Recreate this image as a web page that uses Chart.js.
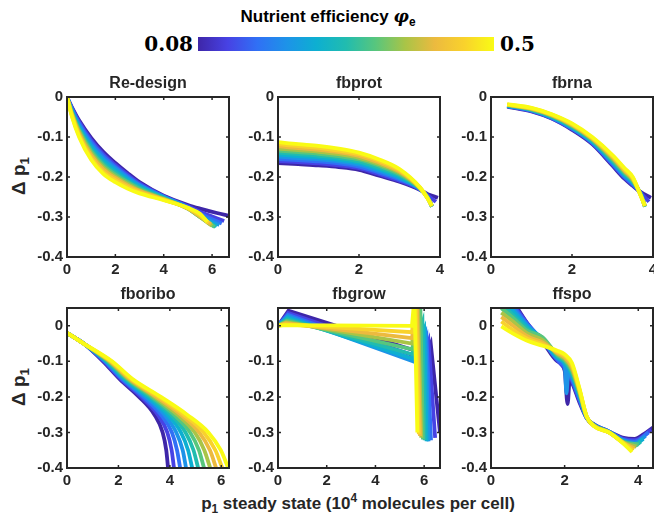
<!DOCTYPE html>
<html>
<head>
<meta charset="utf-8">
<script src="https://cdn.jsdelivr.net/npm/chart.js@4.4.0/dist/chart.umd.min.js"></script>
<style>
  body { margin: 0; background: #fff; width: 654px; height: 516px; position: relative; overflow: hidden;
         font-family: "Liberation Sans", Arial, Helvetica, sans-serif; }
  canvas { position: absolute; }
  .lbl { position: absolute; font-weight: bold; color: #262626; white-space: nowrap; line-height: 1; }
  .ptitle { font-size: 16px; transform: translate(-50%, -50%); }
  .ylab { font-size: 19px; transform: translate(-50%, -50%) rotate(-90deg); }
  .cbnum { position: absolute; font-family: "DejaVu Serif", serif; font-weight: bold; font-size: 20px; color: #000; line-height: 1; }
  sub, sup { font-size: 70%; line-height: 0; }
</style>
</head>
<body>
<div id="colorbar" style="position:absolute;left:198px;top:37px;width:296px;height:14px;"></div>
<div class="lbl" style="left:328px;top:16px;font-size:17px;color:#000;transform:translate(-50%,-50%);">Nutrient efficiency <i style="font-family:'DejaVu Serif',serif;">φ</i><sub>e</sub></div>
<div class="cbnum" id="cbLow" style="right:461px;top:34px;"></div>
<div class="cbnum" id="cbHigh" style="left:500px;top:34px;"></div>
<div class="lbl ylab" style="left:18px;top:176px;">Δ p<sub>1</sub></div>
<div class="lbl ylab" style="left:18px;top:387px;">Δ p<sub>1</sub></div>
<div class="lbl" style="left:358px;top:503px;font-size:17px;transform:translate(-50%,-50%);">p<sub>1</sub> steady state (10<sup>4</sup> molecules per cell)</div>

<script>
// nutrient efficiency values, one curve per value (parula colours)
const phiValues = [0.08, 0.122, 0.164, 0.206, 0.248, 0.29, 0.332, 0.374, 0.416, 0.458, 0.5];
const lineColors = ['#3E26A8', '#4742E4', '#3070F5', '#1D93E8', '#0DAFD1', '#21BCAF',
                    '#58C67D', '#A9C447', '#ECBA3F', '#F9D22C', '#F9FB15'];
const colorbarLabels = ['0.08', '0.5'];
const panelTitles = ['Re-design', 'fbprot', 'fbrna', 'fboribo', 'fbgrow', 'ffspo'];

// Re-design
const redesignX = [
  [0, 0.2, 0.5, 1, 1.5, 2, 2.5, 3, 4, 5, 5.5, 6.2, 6.7],
  [0, 0.2, 0.5, 1, 1.5, 2, 2.5, 3, 4, 5, 5.5, 6.5],
  [0, 0.2, 0.5, 1, 1.5, 2, 2.5, 3, 4, 5, 5.5, 6.4],
  [0, 0.2, 0.5, 1, 1.5, 2, 2.5, 3, 4, 5, 5.5, 6.3],
  [0, 0.2, 0.5, 1, 1.5, 2, 2.5, 3, 4, 5, 5.5, 6.2],
  [0, 0.2, 0.5, 1, 1.5, 2, 2.5, 3, 4, 5, 5.5, 6.15],
  [0, 0.2, 0.5, 1, 1.5, 2, 2.5, 3, 4, 5, 5.5, 6.1],
  [0, 0.2, 0.5, 1, 1.5, 2, 2.5, 3, 4, 5, 5.5, 6.0],
  [0, 0.2, 0.5, 1, 1.5, 2, 2.5, 3, 4, 5, 5.5, 5.95],
  [0, 0.2, 0.5, 1, 1.5, 2, 2.5, 3, 4, 5, 5.5, 5.85],
  [0, 0.2, 0.5, 1, 1.5, 2, 2.5, 3, 4, 5, 5.5, 5.8]
];
const redesignY = [
  [0, -0.025, -0.058, -0.102, -0.137, -0.165, -0.190, -0.213, -0.247, -0.270, -0.279, -0.290, -0.297],
  [0, -0.027, -0.062, -0.108, -0.143, -0.170, -0.194, -0.216, -0.248, -0.273, -0.287, -0.310],
  [0, -0.030, -0.066, -0.113, -0.148, -0.175, -0.198, -0.219, -0.249, -0.275, -0.292, -0.316],
  [0, -0.032, -0.071, -0.119, -0.154, -0.179, -0.202, -0.221, -0.250, -0.277, -0.296, -0.320],
  [0, -0.034, -0.075, -0.124, -0.159, -0.184, -0.206, -0.224, -0.251, -0.278, -0.298, -0.323],
  [0, -0.037, -0.079, -0.130, -0.165, -0.189, -0.210, -0.227, -0.253, -0.279, -0.300, -0.325],
  [0, -0.039, -0.083, -0.135, -0.170, -0.194, -0.213, -0.230, -0.254, -0.279, -0.300, -0.325],
  [0, -0.041, -0.087, -0.141, -0.176, -0.199, -0.217, -0.233, -0.255, -0.279, -0.300, -0.322],
  [0, -0.043, -0.092, -0.146, -0.181, -0.203, -0.221, -0.235, -0.256, -0.279, -0.298, -0.318],
  [0, -0.046, -0.096, -0.152, -0.187, -0.208, -0.225, -0.238, -0.257, -0.278, -0.295, -0.315],
  [0, -0.048, -0.100, -0.157, -0.192, -0.213, -0.229, -0.241, -0.258, -0.277, -0.292, -0.312]
];

// fbprot
const fbprotX = [
  [0, 0.5, 1, 1.5, 2, 2.5, 3, 3.5, 3.7, 3.95],
  [0, 0.5, 1, 1.5, 2, 2.5, 3, 3.5, 3.7, 3.9],
  [0, 0.5, 1, 1.5, 2, 2.5, 3, 3.5, 3.7, 3.8],
  [0, 0.5, 1, 1.5, 2, 2.5, 3, 3.5, 3.7, 3.8],
  [0, 0.5, 1, 1.5, 2, 2.5, 3, 3.5, 3.7, 3.8],
  [0, 0.5, 1, 1.5, 2, 2.5, 3, 3.5, 3.7, 3.8],
  [0, 0.5, 1, 1.5, 2, 2.5, 3, 3.5, 3.7, 3.8],
  [0, 0.5, 1, 1.5, 2, 2.5, 3, 3.5, 3.7, 3.8],
  [0, 0.5, 1, 1.5, 2, 2.5, 3, 3.5, 3.7, 3.8],
  [0, 0.5, 1, 1.5, 2, 2.5, 3, 3.5, 3.7, 3.8],
  [0, 0.5, 1, 1.5, 2, 2.5, 3, 3.5, 3.7, 3.8]
];
const fbprotY = [
  [-0.165, -0.168, -0.171, -0.175, -0.182, -0.197, -0.212, -0.232, -0.243, -0.252],
  [-0.160, -0.163, -0.166, -0.171, -0.178, -0.193, -0.209, -0.231, -0.246, -0.262],
  [-0.155, -0.158, -0.161, -0.166, -0.174, -0.189, -0.206, -0.230, -0.250, -0.272],
  [-0.149, -0.153, -0.156, -0.161, -0.169, -0.185, -0.203, -0.229, -0.251, -0.273],
  [-0.144, -0.148, -0.151, -0.157, -0.165, -0.181, -0.200, -0.229, -0.252, -0.274],
  [-0.139, -0.143, -0.147, -0.152, -0.161, -0.177, -0.196, -0.228, -0.252, -0.274],
  [-0.134, -0.138, -0.142, -0.148, -0.156, -0.172, -0.193, -0.228, -0.253, -0.274],
  [-0.129, -0.133, -0.137, -0.143, -0.152, -0.168, -0.189, -0.227, -0.253, -0.273],
  [-0.123, -0.128, -0.132, -0.138, -0.147, -0.164, -0.186, -0.226, -0.254, -0.273],
  [-0.118, -0.123, -0.127, -0.134, -0.143, -0.160, -0.183, -0.226, -0.254, -0.272],
  [-0.113, -0.118, -0.122, -0.129, -0.139, -0.156, -0.180, -0.225, -0.255, -0.272]
];

// fbrna
const fbrnaX = [
  [0.4, 1, 1.5, 2, 2.5, 3, 3.3, 3.5, 3.7, 3.95],
  [0.4, 1, 1.5, 2, 2.5, 3, 3.3, 3.5, 3.7, 3.9],
  [0.4, 1, 1.5, 2, 2.5, 3, 3.3, 3.5, 3.7, 3.8],
  [0.4, 1, 1.5, 2, 2.5, 3, 3.3, 3.5, 3.7, 3.8],
  [0.4, 1, 1.5, 2, 2.5, 3, 3.3, 3.5, 3.7, 3.8],
  [0.4, 1, 1.5, 2, 2.5, 3, 3.3, 3.5, 3.7, 3.8],
  [0.4, 1, 1.5, 2, 2.5, 3, 3.3, 3.5, 3.7, 3.8],
  [0.4, 1, 1.5, 2, 2.5, 3, 3.3, 3.5, 3.7, 3.8],
  [0.4, 1, 1.5, 2, 2.5, 3, 3.3, 3.5, 3.7, 3.8],
  [0.4, 1, 1.5, 2, 2.5, 3, 3.3, 3.5, 3.7, 3.8],
  [0.4, 1, 1.5, 2, 2.5, 3, 3.3, 3.5, 3.7, 3.8]
];
const fbrnaY = [
  [-0.024, -0.036, -0.054, -0.082, -0.118, -0.172, -0.205, -0.222, -0.238, -0.252],
  [-0.023, -0.035, -0.053, -0.080, -0.116, -0.169, -0.202, -0.220, -0.240, -0.262],
  [-0.023, -0.034, -0.052, -0.079, -0.114, -0.167, -0.200, -0.218, -0.241, -0.272],
  [-0.022, -0.033, -0.051, -0.077, -0.113, -0.164, -0.197, -0.215, -0.242, -0.273],
  [-0.022, -0.032, -0.050, -0.076, -0.111, -0.161, -0.194, -0.213, -0.243, -0.274],
  [-0.021, -0.032, -0.049, -0.074, -0.109, -0.159, -0.192, -0.211, -0.244, -0.274],
  [-0.020, -0.031, -0.047, -0.072, -0.107, -0.156, -0.189, -0.209, -0.245, -0.274],
  [-0.020, -0.030, -0.046, -0.071, -0.105, -0.153, -0.186, -0.207, -0.246, -0.273],
  [-0.019, -0.029, -0.045, -0.069, -0.104, -0.150, -0.184, -0.204, -0.246, -0.273],
  [-0.019, -0.028, -0.044, -0.068, -0.102, -0.148, -0.181, -0.202, -0.247, -0.272],
  [-0.018, -0.027, -0.043, -0.066, -0.100, -0.145, -0.178, -0.200, -0.248, -0.272]
];

// fboribo (x read at fixed levels of delta p1)
const fboriboX = [
  [0, 0.65, 1.40, 2.05, 2.80, 3.40, 3.72, 3.86, 3.93],
  [0, 0.65, 1.44, 2.10, 2.89, 3.53, 3.90, 4.07, 4.16],
  [0, 0.65, 1.47, 2.15, 2.97, 3.65, 4.08, 4.28, 4.40],
  [0, 0.65, 1.51, 2.20, 3.06, 3.78, 4.25, 4.50, 4.63],
  [0, 0.65, 1.54, 2.25, 3.14, 3.91, 4.43, 4.71, 4.87],
  [0, 0.65, 1.58, 2.30, 3.23, 4.04, 4.61, 4.92, 5.10],
  [0, 0.65, 1.61, 2.35, 3.31, 4.16, 4.79, 5.13, 5.33],
  [0, 0.65, 1.65, 2.40, 3.40, 4.29, 4.97, 5.34, 5.57],
  [0, 0.65, 1.68, 2.45, 3.48, 4.42, 5.14, 5.56, 5.80],
  [0, 0.65, 1.72, 2.50, 3.57, 4.54, 5.32, 5.77, 6.04],
  [0, 0.65, 1.75, 2.55, 3.65, 4.67, 5.50, 5.98, 6.27]
];
const fboriboLevels = [-0.02, -0.05, -0.1, -0.15, -0.2, -0.25, -0.3, -0.35, -0.4];

// fbgrow
const fbgrowX = [
  [0, 0.43, 6.1, 6.27, 6.65],
  [0, 0.42, 5.95, 6.18, 6.45],
  [0, 0.41, 5.75, 6.1, 6.28],
  [0, 0.4, 5.55, 6.05, 6.18],
  [0, 0.4, 5.5, 6.0, 6.1],
  [0, 0.38, 5.5, 5.93, 6.02],
  [0, 0.36, 5.5, 5.85, 5.95],
  [0, 0.34, 5.5, 5.75, 5.88],
  [0, 0.32, 5.5, 5.7, 5.83],
  [0, 0.3, 5.5, 5.65, 5.78],
  [0, 0.3, 5.5, 5.6, 5.72]
];
const fbgrowY = [
  [0, 0.042, -0.08, -0.051, -0.30],
  [0, 0.036, -0.092, -0.045, -0.315],
  [0, 0.031, -0.1, -0.035, -0.322],
  [0, 0.027, -0.1, -0.023, -0.325],
  [0, 0.022, -0.092, -0.01, -0.325],
  [0, 0.018, -0.08, 0.009, -0.322],
  [0, 0.014, -0.066, 0.03, -0.32],
  [0, 0.010, -0.05, 0.06, -0.315],
  [0, 0.007, -0.035, 0.07, -0.31],
  [0, 0.004, -0.018, 0.08, -0.305],
  [0, 0.002, 0, 0.08, -0.30]
];

// ffspo
const ffspoX = [
  [0.28, 0.6, 1.0, 1.4, 1.8, 2.0, 2.08, 2.14, 2.2, 2.4, 2.6, 2.8, 3.2, 3.6, 3.9, 4.15, 4.43],
  [0.28, 0.6, 1.0, 1.4, 1.8, 2.0, 2.2, 2.4, 2.6, 2.8, 3.2, 3.6, 3.9, 4.35],
  [0.28, 0.6, 1.0, 1.4, 1.8, 2.0, 2.2, 2.4, 2.6, 2.8, 3.2, 3.6, 3.9, 4.28],
  [0.28, 0.6, 1.0, 1.4, 1.8, 2.0, 2.05, 2.1, 2.2, 2.4, 2.6, 2.8, 3.2, 3.6, 3.9, 4.2],
  [0.28, 0.6, 1.0, 1.4, 1.8, 2.0, 2.2, 2.4, 2.6, 2.8, 3.2, 3.6, 3.9, 4.14],
  [0.28, 0.6, 1.0, 1.4, 1.8, 2.0, 2.2, 2.4, 2.6, 2.8, 3.2, 3.6, 3.9, 4.07],
  [0.28, 0.6, 1.0, 1.4, 1.8, 2.0, 2.2, 2.4, 2.6, 2.8, 3.2, 3.6, 4.01],
  [0.28, 0.6, 1.0, 1.4, 1.8, 2.0, 2.2, 2.4, 2.6, 2.8, 3.2, 3.6, 3.95],
  [0.28, 0.6, 1.0, 1.4, 1.8, 2.0, 2.2, 2.4, 2.6, 2.8, 3.2, 3.6, 3.9],
  [0.28, 0.6, 1.0, 1.4, 1.8, 2.0, 2.2, 2.4, 2.6, 2.8, 3.2, 3.6, 3.86],
  [0.28, 0.6, 1.0, 1.4, 1.8, 2.0, 2.2, 2.4, 2.6, 2.8, 3.2, 3.6, 3.83]
];
const ffspoY = [
  [0.13, 0.07, 0.005, -0.045, -0.10, -0.126, -0.22, -0.15, -0.16, -0.215, -0.26, -0.277, -0.297, -0.315, -0.318, -0.305, -0.284],
  [0.115, 0.062, 0.005, -0.042, -0.097, -0.12, -0.155, -0.21, -0.26, -0.278, -0.297, -0.318, -0.322, -0.293],
  [0.10, 0.055, 0.002, -0.04, -0.094, -0.115, -0.15, -0.205, -0.259, -0.279, -0.298, -0.321, -0.326, -0.30],
  [0.09, 0.047, 0.0, -0.038, -0.091, -0.11, -0.19, -0.13, -0.144, -0.2, -0.259, -0.279, -0.298, -0.323, -0.33, -0.31],
  [0.075, 0.04, -0.005, -0.036, -0.088, -0.105, -0.138, -0.195, -0.258, -0.28, -0.298, -0.325, -0.334, -0.318],
  [0.06, 0.03, -0.01, -0.034, -0.085, -0.1, -0.133, -0.19, -0.258, -0.28, -0.299, -0.326, -0.338, -0.326],
  [0.05, 0.022, -0.015, -0.032, -0.082, -0.096, -0.127, -0.188, -0.257, -0.281, -0.299, -0.327, -0.334],
  [0.037, 0.012, -0.022, -0.04, -0.079, -0.092, -0.122, -0.185, -0.257, -0.281, -0.299, -0.328, -0.34],
  [0.025, 0.0, -0.03, -0.047, -0.076, -0.088, -0.116, -0.18, -0.256, -0.282, -0.3, -0.329, -0.345],
  [0.012, -0.012, -0.037, -0.052, -0.073, -0.084, -0.11, -0.178, -0.256, -0.282, -0.3, -0.33, -0.35],
  [-0.002, -0.022, -0.043, -0.056, -0.07, -0.08, -0.105, -0.175, -0.255, -0.283, -0.3, -0.332, -0.355]
];

// colour bar
const parulaStops = ['#3E26A8 0%', '#4742E4 10%', '#3070F5 20%', '#1D93E8 30%', '#0DAFD1 40%', '#21BCAF 50%',
                     '#58C67D 60%', '#A9C447 70%', '#ECBA3F 80%', '#F9D22C 90%', '#F9FB15 100%'];
document.getElementById('colorbar').style.background = 'linear-gradient(to right, ' + parulaStops.join(', ') + ')';
document.getElementById('cbLow').textContent = colorbarLabels[0];
document.getElementById('cbHigh').textContent = colorbarLabels[1];

// layout of the 2x3 grid of axes (px)
const plotLefts = [67, 278, 491];
const plotTops = [96, 307];
const plotW = 162, plotH = 161;
const padL = 50, padT = 12, padR = 12, padB = 26;
const axisColor = '#262626';
const tickFont = { family: '"Liberation Sans", Arial, sans-serif', size: 15, weight: 'bold' };

// draw the MATLAB-style box with inward ticks on all four sides
const boxPlugin = {
  id: 'box',
  afterDatasetsDraw(chart) {
    const { ctx, chartArea: a, scales } = chart;
    ctx.save();
    ctx.strokeStyle = axisColor;
    ctx.lineWidth = 1.5;
    ctx.beginPath();
    scales.x.ticks.forEach(t => {
      const px = scales.x.getPixelForValue(t.value);
      ctx.moveTo(px, a.bottom); ctx.lineTo(px, a.bottom - 3);
      ctx.moveTo(px, a.top); ctx.lineTo(px, a.top + 3);
    });
    scales.y.ticks.forEach(t => {
      const py = scales.y.getPixelForValue(t.value);
      ctx.moveTo(a.left, py); ctx.lineTo(a.left + 3, py);
      ctx.moveTo(a.right, py); ctx.lineTo(a.right - 3, py);
    });
    ctx.stroke();
    ctx.lineWidth = 2;
    ctx.strokeRect(a.left, a.top, a.right - a.left, a.bottom - a.top);
    ctx.restore();
  }
};

function makePanel(idx, xsList, ysList, xMax, yMin, yMax, smooth) {
  const col = idx % 3, row = Math.floor(idx / 3);
  const cv = document.createElement('canvas');
  const w = plotW + padL + padR, h = plotH + padT + padB;
  cv.width = w; cv.height = h;
  cv.style.left = (plotLefts[col] - padL) + 'px';
  cv.style.top = (plotTops[row] - padT) + 'px';
  cv.style.width = w + 'px'; cv.style.height = h + 'px';
  document.body.appendChild(cv);

  const title = document.createElement('div');
  title.className = 'lbl ptitle';
  title.textContent = panelTitles[idx];
  title.style.left = (plotLefts[col] + plotW / 2) + 'px';
  title.style.top = (plotTops[row] - 13) + 'px';
  document.body.appendChild(title);

  const datasets = xsList.map((xs, k) => ({
    data: xs.map((x, i) => ({ x: x, y: Array.isArray(ysList[0]) ? ysList[k][i] : ysList[i] })),
    borderColor: lineColors[k],
    borderWidth: 3.8,
    pointRadius: 0,
    fill: false,
    clip: 0,
    order: lineColors.length - 1 - k,
    cubicInterpolationMode: smooth ? 'monotone' : 'default',
    tension: 0
  }));

  new Chart(cv, {
    type: 'line',
    data: { datasets: datasets },
    options: {
      responsive: false,
      animation: false,
      events: [],
      layout: { padding: { top: padT, right: padR, left: 0, bottom: 0 } },
      plugins: { legend: { display: false }, tooltip: { enabled: false }, title: { display: false } },
      scales: {
        x: {
          type: 'linear', min: 0, max: xMax,
          grid: { display: false, drawTicks: false },
          border: { display: false },
          ticks: { stepSize: 2, includeBounds: false, autoSkip: false, maxRotation: 0,
                   font: tickFont, color: axisColor, padding: 4 },
          afterFit(s) { s.height = padB; }
        },
        y: {
          type: 'linear', min: yMin, max: yMax,
          grid: { display: false, drawTicks: false },
          border: { display: false },
          ticks: { stepSize: 0.1, includeBounds: false, autoSkip: false,
                   font: tickFont, color: axisColor, padding: 4,
                   callback: v => Math.abs(v) < 1e-9 ? '0' : v.toFixed(1) },
          afterFit(s) { s.width = padL; }
        }
      }
    },
    plugins: [boxPlugin]
  });
}

makePanel(0, redesignX, redesignY, 6.7, -0.4, 0, true);
makePanel(1, fbprotX, fbprotY, 4, -0.4, 0, true);
makePanel(2, fbrnaX, fbrnaY, 4, -0.4, 0, true);
makePanel(3, fboriboX, fboriboLevels, 6.3, -0.4, 0.05, true);
makePanel(4, fbgrowX, fbgrowY, 6.65, -0.4, 0.05, false);
makePanel(5, ffspoX, ffspoY, 4.4, -0.4, 0.05, true);
</script>
</body>
</html>
